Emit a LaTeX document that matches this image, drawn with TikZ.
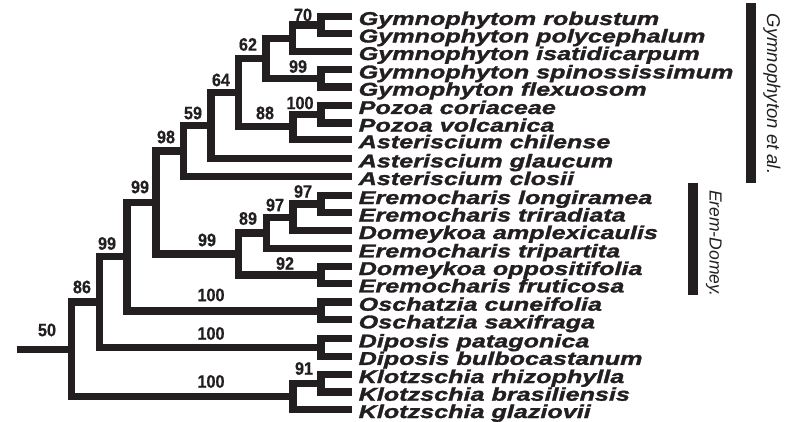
\documentclass[tikz,border=0pt]{standalone}
\usepackage{fontspec}
\setmainfont{Liberation Sans}
\newfontfamily\taxfont[FakeStretch=1.36, FakeBold=1.6]{Liberation Sans}
\newfontfamily\bsfont[FakeStretch=0.9, FakeBold=0.6]{Liberation Sans}
\newfontfamily\cladefont{Liberation Sans}
\definecolor{ink}{HTML}{231F20}
\begin{document}
\begin{tikzpicture}[x=1pt,y=-1pt,
  branch/.style={draw=ink, line width=7.3pt, line cap=butt, line join=miter},
  taxon/.style={anchor=base west, inner sep=0pt, text=ink,
    font={\taxfont\bfseries\itshape\fontsize{18.5}{18.5}\selectfont}},
  boot/.style={inner sep=0pt, text=ink,
    font={\bsfont\bfseries\fontsize{18}{18}\selectfont}},
  cladelabel/.style={inner sep=0pt, anchor=base, rotate=-90, text=ink,
    font={\cladefont\itshape\fontsize{18.5}{18.5}\selectfont}},
  cladebar/.style={fill=ink}
]
\useasboundingbox (0,0) rectangle (791,422);

% leaves and taxon names
\foreach \i/\y/\name in {
  1/16.3/Gymnophytom robustum,
  2/33.7/Gymnophyton polycephalum,
  3/51.3/Gymnophyton isatidicarpum,
  4/69.7/Gymnophyton spinossissimum,
  5/87/Gymophyton flexuosom,
  6/105.3/Pozoa coriaceae,
  7/123/Pozoa volcanica,
  8/139.5/Asteriscium chilense,
  9/158.7/Asteriscium glaucum,
  10/176.3/Asteriscium closii,
  11/195.3/Eremocharis longiramea,
  12/212.8/Eremocharis triradiata,
  13/230.3/Domeykoa amplexicaulis,
  14/248.7/Eremocharis tripartita,
  15/266.3/Domeykoa oppositifolia,
  16/283.7/Eremocharis fruticosa,
  17/302/Oschatzia cuneifolia,
  18/319.7/Oschatzia saxifraga,
  19/338.7/Diposis patagonica,
  20/356.2/Diposis bulbocastanum,
  21/374.3/Klotzschia rhizophylla,
  22/392/Klotzschia brasiliensis,
  23/409.3/Klotzschia glaziovii}
{
  \coordinate (L\i) at (352,\y);
  \node[taxon] (T\i) at (358.5,\y+8.7) {\name};
}

% internal nodes
\coordinate (n70)   at (321,25);
\coordinate (nA)    at (292.5,38.2);
\coordinate (n99a)  at (321,78.35);
\coordinate (n62)   at (266,58.3);
\coordinate (n100a) at (321,114.2);
\coordinate (n88)   at (293,126.85);
\coordinate (n64)   at (238.5,92.6);
\coordinate (n59)   at (211,125.65);
\coordinate (n98)   at (183.5,151);
\coordinate (n97a)  at (321,204.05);
\coordinate (n97b)  at (293,217.2);
\coordinate (n89)   at (266.5,232.95);
\coordinate (n92)   at (321,275);
\coordinate (n99e)  at (238.5,254);
\coordinate (n99u)  at (156,202.5);
\coordinate (nOsc)  at (321,310.85);
\coordinate (n99l)  at (127,256.7);
\coordinate (nDip)  at (321,347.45);
\coordinate (n86)   at (99.5,302.1);
\coordinate (n91)   at (321,383.15);
\coordinate (nK)    at (293,396.2);
\coordinate (root)  at (71.8,349.15);
\coordinate (stem)  at (16.7,349.15);

% branches
\foreach \p/\c in {n70/L1, n70/L2, nA/n70, nA/L3, n99a/L4, n99a/L5,
  n62/nA, n62/n99a, n100a/L6, n100a/L7, n88/n100a, n88/L8,
  n64/n62, n64/n88, n59/n64, n59/L9, n98/n59, n98/L10,
  n97a/L11, n97a/L12, n97b/n97a, n97b/L13, n89/n97b, n89/L14,
  n92/L15, n92/L16, n99e/n89, n99e/n92, n99u/n98, n99u/n99e,
  nOsc/L17, nOsc/L18, n99l/n99u, n99l/nOsc, nDip/L19, nDip/L20,
  n86/n99l, n86/nDip, n91/L21, n91/L22, nK/n91, nK/L23,
  root/n86, root/nK}
{
  \draw[branch] (\p) |- (\c);
}
\draw[branch] (stem) -- (root);

% bootstrap values
\node[boot] (b70)   at (303,15)    {70};
\node[boot] (b62)   at (248,44.5)  {62};
\node[boot] (b99a)  at (298,66.5)  {99};
\node[boot] (b64)   at (221,80)    {64};
\node[boot] (b100a) at (300,103)   {100};
\node[boot] (b88)   at (265,113)   {88};
\node[boot] (b59)   at (193,113)   {59};
\node[boot] (b98)   at (166,137)   {98};
\node[boot] (b99u)  at (140,187)   {99};
\node[boot] (b97a)  at (303,191.5) {97};
\node[boot] (b97b)  at (275,205)   {97};
\node[boot] (b89)   at (248,218.5) {89};
\node[boot] (b99e)  at (207,240)   {99};
\node[boot] (b92)   at (285,263.5) {92};
\node[boot] (b99l)  at (107,243.5) {99};
\node[boot] (b86)   at (82,287)    {86};
\node[boot] (bOsc)  at (211,295)   {100};
\node[boot] (b50)   at (47,330)    {50};
\node[boot] (bDip)  at (211,333.5) {100};
\node[boot] (b91)   at (304,368.5) {91};
\node[boot] (bK)    at (211,381.5) {100};

% clade bars and labels
\fill[cladebar] (746,3) rectangle (756,183);
\fill[cladebar] (688,183) rectangle (698,295);
\node[cladelabel] (gl) at (767,94) {Gymnophyton et al.};
\node[cladelabel, font={\cladefont\itshape\fontsize{17.5}{17.5}\selectfont}] (el) at (709.5,243.5) {Erem-Domey.};
\end{tikzpicture}
\end{document}
